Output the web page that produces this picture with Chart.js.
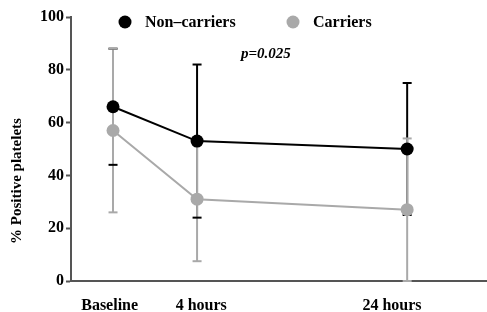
<!DOCTYPE html>
<html>
<head>
<meta charset="utf-8">
<script src="https://cdn.jsdelivr.net/npm/chart.js@4.4.1/dist/chart.umd.min.js"></script>
<style>
  html, body { margin: 0; padding: 0; background: #fff; }
  #wrap { width: 487px; height: 312px; }
</style>
</head>
<body>
<div id="wrap"><canvas id="chart"></canvas></div>
<script>
/* ---------- data ---------- */
const timeLabels = ["Baseline", "4 hours", "24 hours"];
const timePos = [0, 1, 3.5];          // where each time point sits on the x scale
const labelPos = [-0.04, 1.05, 3.32]; // where the tick labels sit
const nonCarriers = [66, 53, 50];
const nonCarriersSD = [22, 29, 25];
const carriers = [57, 31, 27];
const carriersSD = [31, 23.5, 27];

const GREY = "#a9a9a9";
const SERIF = "'Liberation Serif', 'Times New Roman', serif";

/* ---------- error bars, drawn under the lines and dots ---------- */
const errorBars = {
  id: "errorBars",
  beforeDatasetsDraw(chart) {
    const { ctx, scales: { x, y } } = chart;
    const sets = [
      [nonCarriers, nonCarriersSD, "#000"],
      [carriers, carriersSD, GREY],
    ];
    ctx.save();
    ctx.lineWidth = 2;
    // stems first, then caps so the black caps stay visible
    sets.forEach(([vals, sd, col]) => {
      ctx.strokeStyle = col;
      vals.forEach((v, i) => {
        const px = x.getPixelForValue(timePos[i]);
        ctx.beginPath();
        ctx.moveTo(px, y.getPixelForValue(v - sd[i]));
        ctx.lineTo(px, y.getPixelForValue(v + sd[i]));
        ctx.stroke();
      });
    });
    sets.forEach(([vals, sd, col]) => {
      ctx.strokeStyle = col;
      vals.forEach((v, i) => {
        const px = x.getPixelForValue(timePos[i]);
        [v - sd[i], v + sd[i]].forEach((e) => {
          const py = y.getPixelForValue(e);
          ctx.beginPath();
          ctx.moveTo(px - 4.5, py);
          ctx.lineTo(px + 4.5, py);
          ctx.stroke();
        });
      });
    });
    ctx.restore();
  },
};

/* ---------- legend, p value, y title ---------- */
const annotations = {
  id: "annotations",
  afterDraw(chart) {
    const { ctx } = chart;
    ctx.save();
    ctx.textBaseline = "middle";
    ctx.font = "bold 16px " + SERIF;
    ctx.fillStyle = "#000";
    ctx.beginPath(); ctx.arc(125, 22, 6.5, 0, Math.PI * 2); ctx.fill();
    ctx.fillText("Non\u2013carriers", 145, 23);
    ctx.fillStyle = GREY;
    ctx.beginPath(); ctx.arc(293, 22, 6.5, 0, Math.PI * 2); ctx.fill();
    ctx.fillStyle = "#000";
    ctx.fillText("Carriers", 313, 23);

    ctx.font = "italic bold 15px " + SERIF;
    ctx.fillText("p=0.025", 241, 54);

    ctx.font = "bold 15px " + SERIF;
    ctx.translate(17, 181);
    ctx.rotate(-Math.PI / 2);
    ctx.textAlign = "center";
    ctx.fillText("% Positive platelets", 0, 0);
    ctx.restore();
  },
};

const toPoints = (vals) => vals.map((v, i) => ({ x: timePos[i], y: v }));

new Chart(document.getElementById("chart"), {
  type: "line",
  data: {
    datasets: [
      {
        label: "Non\u2013carriers",
        data: toPoints(nonCarriers),
        borderColor: "#000",
        backgroundColor: "#000",
        borderWidth: 2,
        pointRadius: 6.5,
        pointBorderWidth: 0,
      },
      {
        label: "Carriers",
        data: toPoints(carriers),
        borderColor: GREY,
        backgroundColor: GREY,
        borderWidth: 2,
        pointRadius: 6.5,
        pointBorderWidth: 0,
      },
    ],
  },
  options: {
    responsive: true,
    maintainAspectRatio: false,
    animation: false,
    layout: { autoPadding: false, padding: { top: 17, right: 0, left: 0, bottom: 0 } },
    plugins: { legend: { display: false }, tooltip: { enabled: false } },
    scales: {
      x: {
        type: "linear",
        min: -0.5,
        max: 4.45,
        grid: { display: false },
        border: { display: true, color: "#555", width: 2 },
        afterBuildTicks: (s) => { s.ticks = labelPos.map((v) => ({ value: v })); },
        afterFit: (s) => { s.height = 31; },
        ticks: {
          autoSkip: false,
          maxRotation: 0,
          padding: 7,
          color: "#000",
          font: { family: SERIF, size: 16, weight: "bold" },
          callback: (v, i) => timeLabels[i],
        },
      },
      y: {
        min: 0,
        max: 100,
        grid: { drawOnChartArea: false, drawTicks: true, tickLength: 5, tickColor: "#555", tickWidth: 2 },
        border: { display: true, color: "#555", width: 2 },
        afterFit: (s) => { s.width = 71; },
        ticks: {
          stepSize: 20,
          padding: 2,
          color: "#000",
          font: { family: SERIF, size: 16, weight: "bold" },
        },
      },
    },
  },
  plugins: [errorBars, annotations],
});
</script>
</body>
</html>
